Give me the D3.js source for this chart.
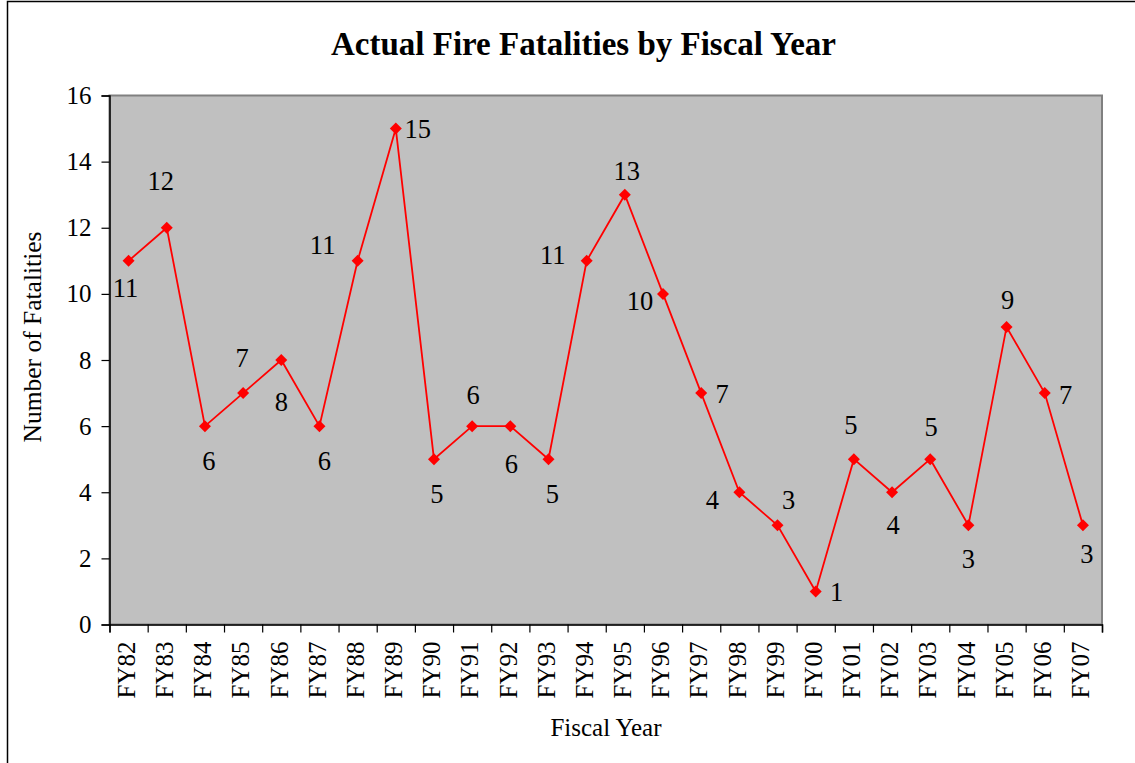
<!DOCTYPE html>
<html>
<head>
<meta charset="utf-8">
<script src="https://cdn.jsdelivr.net/npm/d3@7"></script>
<style>
  html, body { margin: 0; padding: 0; background: #fff; overflow: hidden; }
  text { font-family: "Liberation Serif", "Times New Roman", serif; fill: #000; }
</style>
</head>
<body>
<div id="chart"></div>
<script>
// chart data
const years = ["FY82", "FY83", "FY84", "FY85", "FY86", "FY87", "FY88", "FY89", "FY90",
  "FY91", "FY92", "FY93", "FY94", "FY95", "FY96", "FY97", "FY98", "FY99", "FY00",
  "FY01", "FY02", "FY03", "FY04", "FY05", "FY06", "FY07"];
const fatalities = [11, 12, 6, 7, 8, 6, 11, 15, 5, 6, 6, 5, 11, 13, 10, 7, 4, 3, 1,
  5, 4, 5, 3, 9, 7, 3];
const yTicks = [0, 2, 4, 6, 8, 10, 12, 14, 16];

// where each data label sits relative to its point (dx, dy), as placed in the original
const labelNudge = [[-3, 27], [-6, -47], [4, 35], [-1, -35], [0, 42], [5, 35], [-35, -16],
  [22, 0], [3, 35], [1, -31], [1, 38], [4, 35], [-34, -6], [2, -24], [-23, 7], [21, 1],
  [-27, 7], [11, -26], [21, 0], [-3, -34], [1, 32], [1, -32], [0, 33], [1, -27], [21, 2],
  [4, 28]];

const W = 1135, H = 763;
const plot = { left: 109.5, top: 95.5, right: 1102, bottom: 624.5 };

const svg = d3.select('#chart')
  .append('svg')
  .attr('width', W)
  .attr('height', H);

// outer chart border (runs off the right and bottom edges)
svg.append('rect')
  .attr('x', 7.5).attr('y', 1.5)
  .attr('width', W + 20).attr('height', H + 20)
  .attr('fill', '#fff')
  .attr('stroke', '#000')
  .attr('stroke-width', 1.5);

const x = d3.scaleBand()
  .domain(years)
  .range([plot.left, plot.right]);

const y = d3.scaleLinear()
  .domain([0, 16])
  .range([plot.bottom, plot.top]);

// plot area
svg.append('rect')
  .attr('x', plot.left).attr('y', plot.top)
  .attr('width', plot.right - plot.left).attr('height', plot.bottom - plot.top)
  .attr('fill', '#c0c0c0')
  .attr('stroke', '#808080')
  .attr('stroke-width', 2);

// y axis
const yAxis = svg.append('g')
  .attr('transform', `translate(${plot.left},0)`)
  .call(d3.axisLeft(y).tickValues(yTicks).tickSize(8).tickPadding(10));
yAxis.select('.domain').attr('stroke', '#000').attr('stroke-width', 1.5);
yAxis.selectAll('.tick line').attr('stroke', '#000').attr('stroke-width', 1.2);
yAxis.selectAll('text')
  .attr('font-size', 25)
  .attr('font-family', '"Liberation Serif", serif');

// x axis: ticks between categories, labels rotated at category centres
const xEdge = d3.scaleLinear().domain([0, years.length]).range([plot.left, plot.right]);
const xAxis = svg.append('g')
  .attr('transform', `translate(0,${plot.bottom})`)
  .call(d3.axisBottom(xEdge).tickValues(d3.range(years.length + 1))
    .tickSize(8).tickFormat(''));
xAxis.select('.domain').attr('stroke', '#000').attr('stroke-width', 1.5);
xAxis.selectAll('.tick line').attr('stroke', '#000').attr('stroke-width', 1.2);

svg.append('g')
  .selectAll('text')
  .data(years)
  .join('text')
  .attr('transform', d => `translate(${x(d) + x.bandwidth() / 2},${plot.bottom + 17}) rotate(-90)`)
  .attr('text-anchor', 'end')
  .attr('dy', '0.25em')
  .attr('font-size', 25)
  .text(d => d);

// line + diamond markers
const pts = years.map((d, i) => ({ year: d, value: fatalities[i], nudge: labelNudge[i] }));

svg.append('path')
  .datum(pts)
  .attr('fill', 'none')
  .attr('stroke', '#ff0000')
  .attr('stroke-width', 1.8)
  .attr('d', d3.line()
    .x(d => x(d.year) + x.bandwidth() / 2)
    .y(d => y(d.value)));

svg.append('g')
  .selectAll('path')
  .data(pts)
  .join('path')
  .attr('transform', d => `translate(${x(d.year) + x.bandwidth() / 2},${y(d.value)})`)
  .attr('d', 'M0,-6L6,0L0,6L-6,0Z')
  .attr('fill', '#ff0000');

// data labels
svg.append('g')
  .selectAll('text')
  .data(pts)
  .join('text')
  .attr('x', d => x(d.year) + x.bandwidth() / 2 + d.nudge[0])
  .attr('y', d => y(d.value) + d.nudge[1])
  .attr('dy', '0.35em')
  .attr('text-anchor', 'middle')
  .attr('font-size', 26.5)
  .text(d => d.value);

// titles
svg.append('text')
  .attr('x', 583.5).attr('y', 55)
  .attr('text-anchor', 'middle')
  .attr('font-size', 33)
  .attr('font-weight', 'bold')
  .text('Actual Fire Fatalities by Fiscal Year');

svg.append('text')
  .attr('x', 606).attr('y', 736)
  .attr('text-anchor', 'middle')
  .attr('font-size', 25)
  .text('Fiscal Year');

svg.append('text')
  .attr('transform', `translate(41,337) rotate(-90)`)
  .attr('text-anchor', 'middle')
  .attr('font-size', 25.5)
  .text('Number of Fatalities');
</script>
</body>
</html>
